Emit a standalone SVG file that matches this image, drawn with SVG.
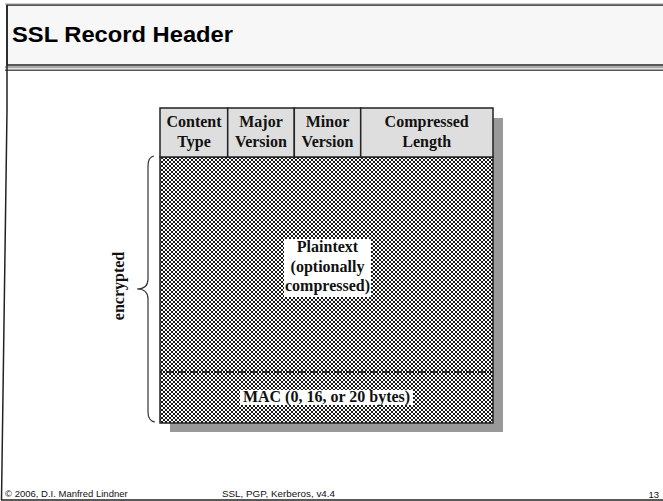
<svg xmlns="http://www.w3.org/2000/svg" width="663" height="501" viewBox="0 0 663 501">
<defs>
<style>
.title{font-family:"Liberation Sans",Arial,sans-serif;font-weight:bold;font-size:22px;fill:#000}
.t{font-family:"Liberation Serif","Times New Roman",serif;font-weight:bold;font-size:16px;fill:#111;text-anchor:middle}
.foot{font-family:"Liberation Sans",Arial,sans-serif;font-size:9.5px;fill:#111}
.cell{fill:#dedede;stroke:#222;stroke-width:1.5}
</style>
<pattern id="hatch" width="4" height="4" patternUnits="userSpaceOnUse">
<rect width="4" height="4" fill="#fff"/>
<path d="M-1,-1 L5,5 M-1,5 L5,-1 M-1,1 L1,-1 M3,5 L5,3 M3,-1 L5,1 M-1,3 L1,5" stroke="#1a1a1a" stroke-width="1"/>
</pattern>
</defs>
<rect width="663" height="501" fill="#fff"/>
<g id="frame">
<rect x="7" y="5" width="660" height="60" fill="#f7f7f7" stroke="#222" stroke-width="1.5"/>
<line x1="5" y1="4" x2="663" y2="4" stroke="#999" stroke-width="1"/>
<rect x="5" y="66" width="658" height="5" fill="#aaa"/>
<line x1="5" y1="68.5" x2="663" y2="68.5" stroke="#ddd" stroke-width="1"/>
<line x1="5" y1="70.5" x2="663" y2="70.5" stroke="#555" stroke-width="1"/>
<polyline points="7,5 7,110 1.5,500" fill="none" stroke="#222" stroke-width="1.5"/>
<line x1="1" y1="500" x2="663" y2="500" stroke="#222" stroke-width="1.5"/>
<text class="title" x="12" y="42" textLength="221" lengthAdjust="spacingAndGlyphs">SSL Record Header</text>
</g>
<g id="shadow">
<rect x="170" y="118" width="333" height="314" fill="#999"/>
</g>
<g id="body">
<rect x="160" y="157" width="333" height="266" fill="url(#hatch)" stroke="#222" stroke-width="1.5"/>
<line x1="160" y1="372" x2="493" y2="372" stroke="#000" stroke-width="1.5" stroke-dasharray="2,1"/>
</g>
<g id="header">
<rect class="cell" x="160" y="108" width="67.7" height="49"/>
<rect class="cell" x="227.7" y="108" width="66.6" height="49"/>
<rect class="cell" x="294.3" y="108" width="66.4" height="49"/>
<rect class="cell" x="360.7" y="108" width="132.3" height="49"/>
<text class="t" x="194" y="127">Content</text>
<text class="t" x="194" y="147">Type</text>
<text class="t" x="261" y="127">Major</text>
<text class="t" x="261" y="147">Version</text>
<text class="t" x="327.5" y="127">Minor</text>
<text class="t" x="327.5" y="147">Version</text>
<text class="t" x="426.7" y="127">Compressed</text>
<text class="t" x="426.7" y="147">Length</text>
</g>
<g id="plaintext">
<rect x="284" y="239" width="87" height="58" fill="#fff"/>
<text class="t" x="327.5" y="252">Plaintext</text>
<text class="t" x="327.5" y="272">(optionally</text>
<text class="t" x="327.5" y="291">compressed)</text>
</g>
<g id="mac">
<rect x="240" y="390" width="173" height="15" fill="#fff"/>
<text class="t" x="326.5" y="402">MAC (0, 16, or 20 bytes)</text>
</g>
<g id="connectors">
<path d="M154,156 Q148,157 148,166 L148,279 Q148,289 137,289 Q148,289 148,299 L148,412 Q148,421 155,422" fill="none" stroke="#333" stroke-width="1.2"/>
</g>
<g id="encrypted">
<text class="t" transform="translate(124,286) rotate(-90)">encrypted</text>
</g>
<g id="footer">
<text class="foot" x="5" y="497">© 2006, D.I. Manfred Lindner</text>
<text class="foot" x="222" y="497" textLength="113" lengthAdjust="spacingAndGlyphs">SSL, PGP, Kerberos, v4.4</text>
<text class="foot" x="659" y="498" text-anchor="end" font-size="11">13</text>
</g>
</svg>
